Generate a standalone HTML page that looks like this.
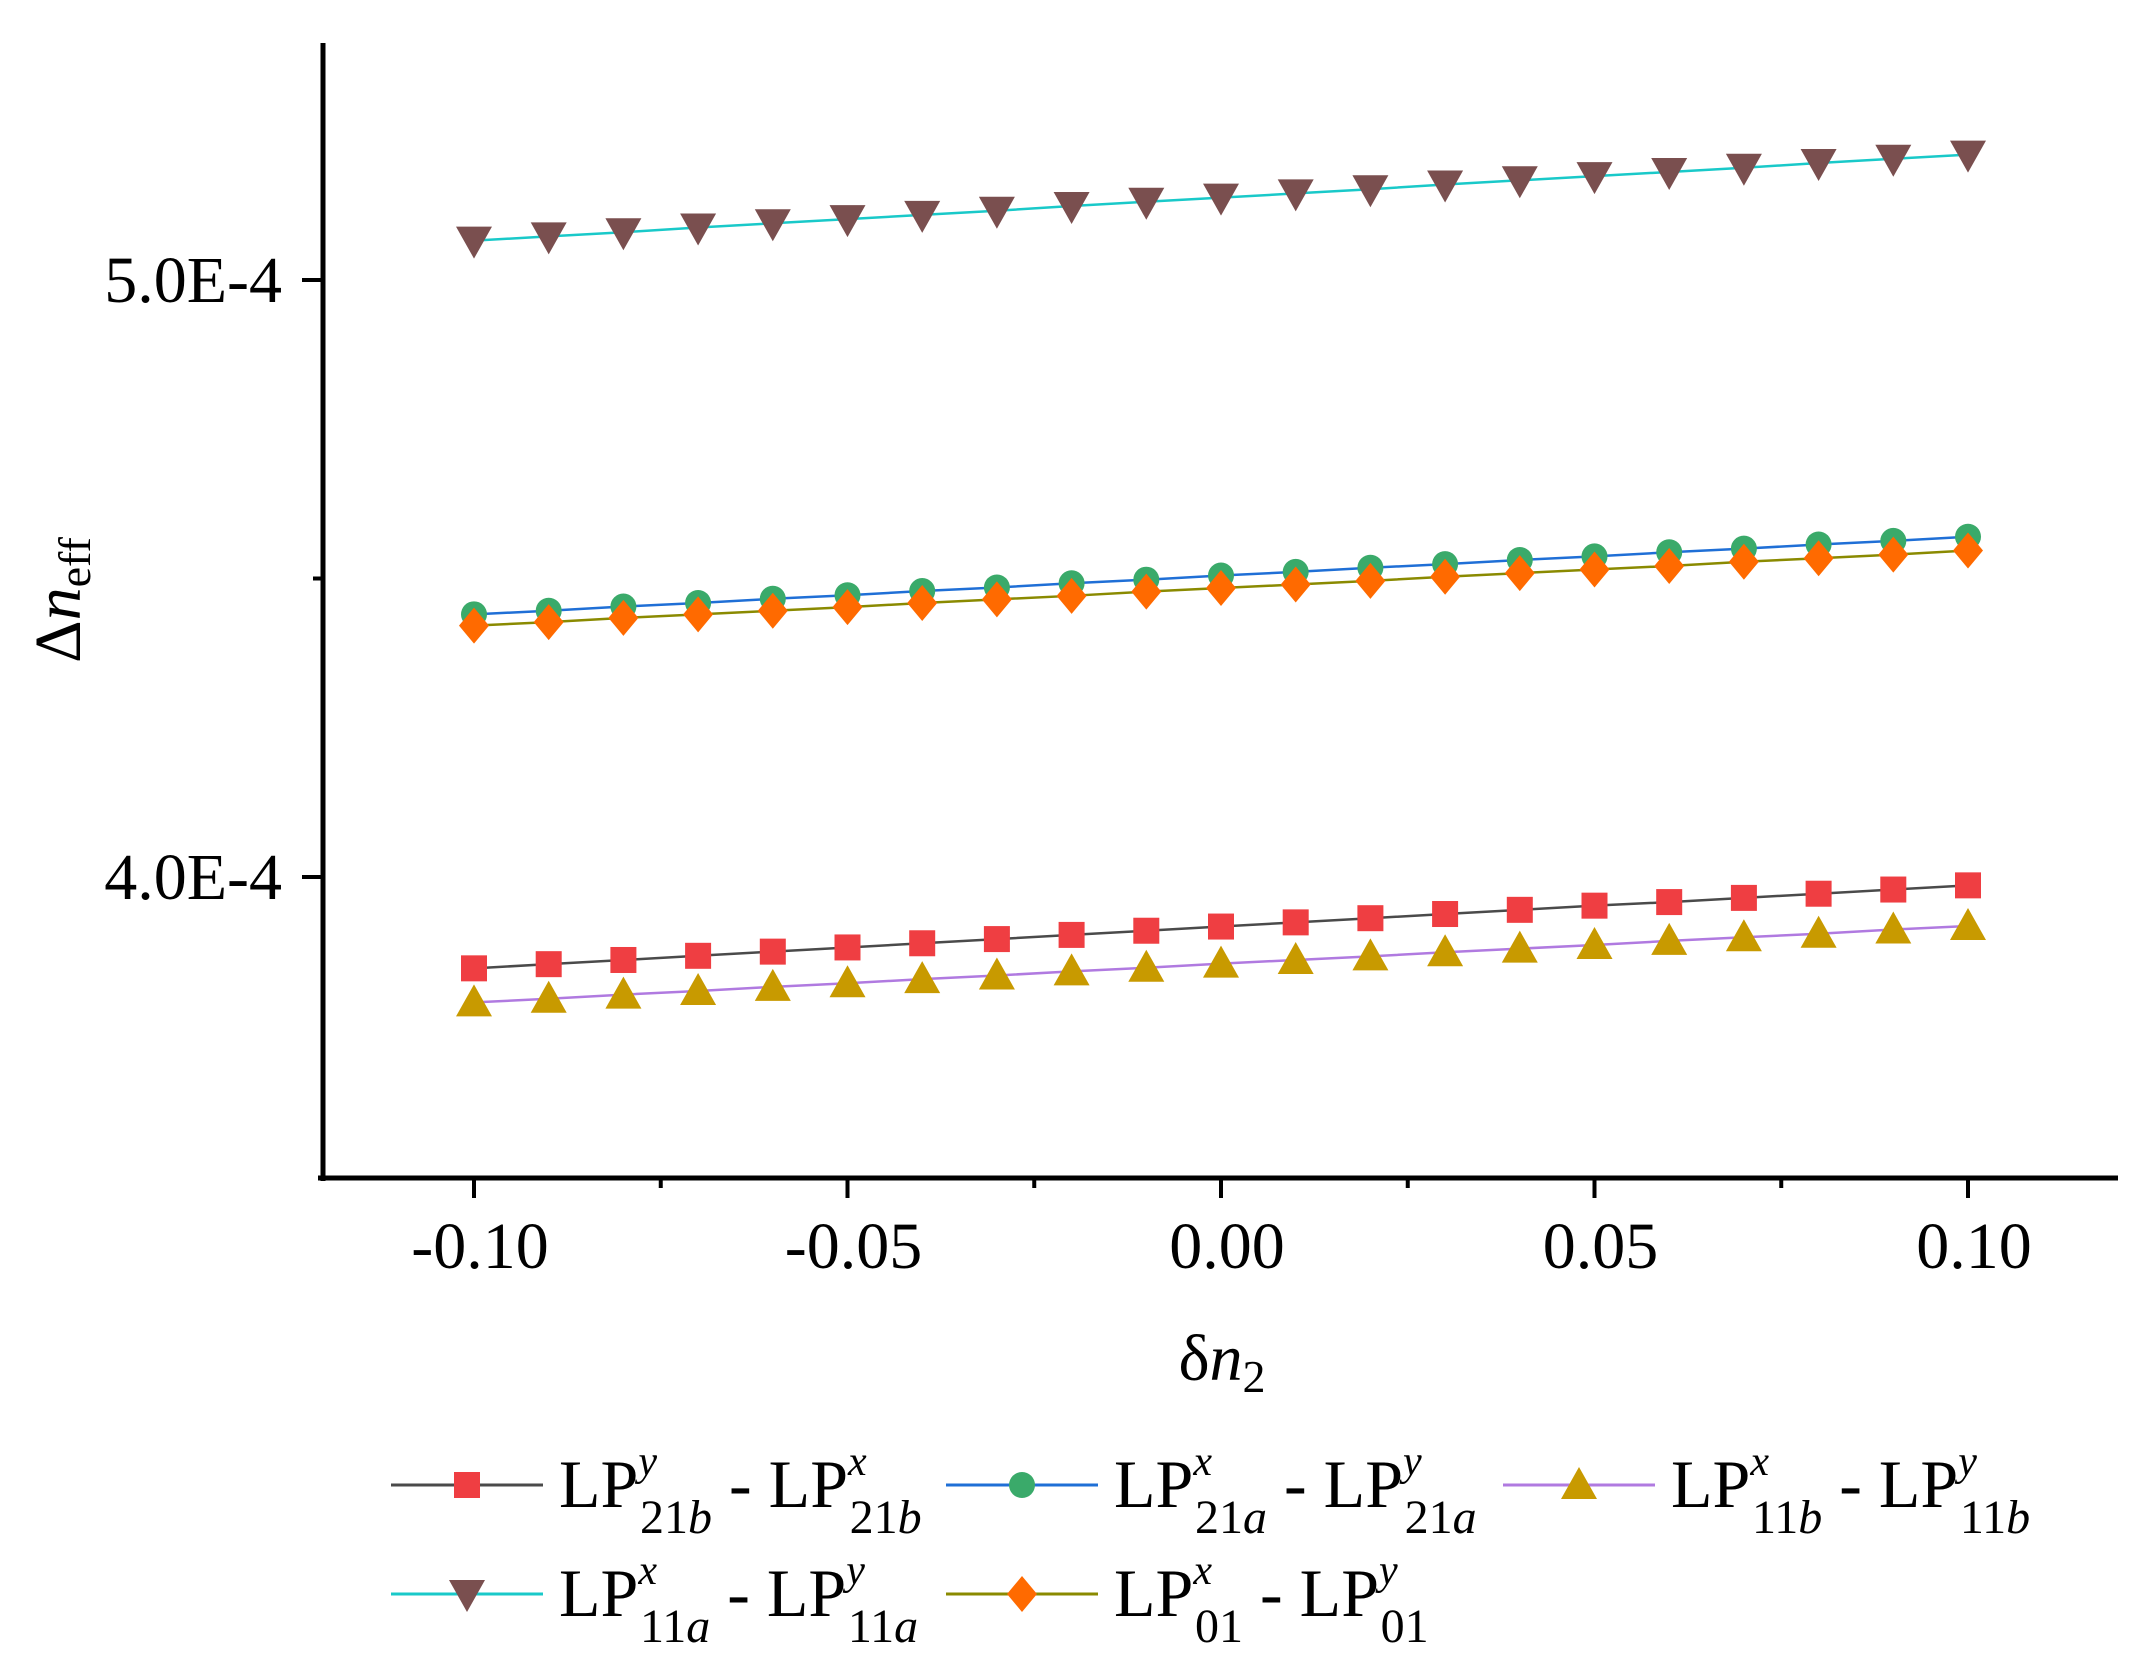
<!DOCTYPE html>
<html><head><meta charset="utf-8"><style>
html,body{margin:0;padding:0;background:#fff;}
svg{display:block;font-family:"Liberation Serif",serif;}
</style></head><body>
<svg id="chart" width="2133" height="1662" viewBox="0 0 2133 1662" xmlns="http://www.w3.org/2000/svg">
<g id="plot"></g>
<g id="axes"></g>
<g id="legend"></g>
</svg>
<script>
const xValues = [-0.10,-0.09,-0.08,-0.07,-0.06,-0.05,-0.04,-0.03,-0.02,-0.01,0.00,0.01,0.02,0.03,0.04,0.05,0.06,0.07,0.08,0.09,0.10];
const s21b = [3.847,3.854,3.861,3.868,3.875,3.882,3.889,3.896,3.903,3.910,3.917,3.924,3.931,3.938,3.945,3.952,3.958,3.965,3.972,3.979,3.986];
const s21a = [4.440,4.446,4.453,4.459,4.466,4.472,4.479,4.485,4.492,4.498,4.505,4.511,4.518,4.524,4.531,4.537,4.544,4.550,4.557,4.563,4.570];
const s11b = [3.790,3.796,3.803,3.809,3.816,3.822,3.829,3.835,3.842,3.848,3.855,3.861,3.867,3.874,3.880,3.886,3.893,3.899,3.905,3.912,3.918];
const s11a = [5.066,5.073,5.080,5.088,5.095,5.102,5.109,5.116,5.124,5.131,5.138,5.145,5.152,5.160,5.167,5.174,5.181,5.188,5.196,5.203,5.210];
const s01  = [4.421,4.427,4.434,4.440,4.446,4.452,4.459,4.465,4.471,4.478,4.484,4.490,4.496,4.503,4.509,4.515,4.521,4.528,4.534,4.540,4.547];
const xTicks = [-0.10,-0.05,0.00,0.05,0.10];
const xTickLabels = ["-0.10","-0.05","0.00","0.05","0.10"];
const yTicks = [4.0,5.0];
const yTickLabels = ["4.0E-4","5.0E-4"];

const NS="http://www.w3.org/2000/svg";
function xs(v){return 474+(v+0.10)*7470;}
function ys(v){return 877-(v-4.0)*597;}
function mk(tag,attrs,parent){const e=document.createElementNS(NS,tag);for(const k in attrs)e.setAttribute(k,attrs[k]);parent.appendChild(e);return e;}
const plot=document.getElementById('plot'),axes=document.getElementById('axes'),legend=document.getElementById('legend');

function marker(type,cx,cy,color,parent,name){
  let e;
  if(type==='square'){e=mk('rect',{x:cx-13,y:cy-13,width:26,height:26,fill:color},parent);}
  else if(type==='circle'){e=mk('circle',{cx:cx,cy:cy,r:13,fill:color},parent);}
  else if(type==='tridown'){e=mk('polygon',{points:`${cx-18},${cy-14} ${cx+18},${cy-14} ${cx},${cy+18}`,fill:color},parent);}
  else if(type==='triup'){e=mk('polygon',{points:`${cx-18},${cy+14} ${cx+18},${cy+14} ${cx},${cy-18}`,fill:color},parent);}
  else {e=mk('polygon',{points:`${cx},${cy-18} ${cx+15},${cy} ${cx},${cy+18} ${cx-15},${cy}`,fill:color},parent);}
  
  
  return e;
}
const series=[
 {d:s21b,line:'#4a4a4a',mc:'#ef3e42',m:'square',name:'lp21b'},
 {d:s21a,line:'#1f6fd6',mc:'#3aaa6a',m:'circle',name:'lp21a'},
 {d:s11b,line:'#b07ae0',mc:'#c89a00',m:'triup',name:'lp11b'},
 {d:s11a,line:'#19c9c9',mc:'#7a4f4f',m:'tridown',name:'lp11a'},
 {d:s01,line:'#8a8a00',mc:'#ff6a00',m:'diamond',name:'lp01'}
];
series.forEach(s=>{
  const g=mk('g',{},plot);
  
  
  const pts=xValues.map((x,i)=>xs(x)+','+ys(s.d[i])).join(' ');
  const pl=mk('polyline',{points:pts,fill:'none',stroke:s.line,'stroke-width':2.5},g);
  
  
  xValues.forEach((x,i)=>marker(s.m,xs(x),ys(s.d[i]),s.mc,g,s.name+'-point'));
});

let a=mk('line',{x1:323,y1:43,x2:323,y2:1181,stroke:'#000','stroke-width':5},axes);

a=mk('line',{x1:318,y1:1178,x2:2118,y2:1178,stroke:'#000','stroke-width':5},axes);

xTicks.forEach((v,i)=>{
  let t=mk('line',{x1:xs(v),y1:1178,x2:xs(v),y2:1198,stroke:'#000','stroke-width':4},axes);
  
  let m=mk('line',{x1:xs(v+0.025),y1:1178,x2:xs(v+0.025),y2:1188,stroke:'#000','stroke-width':4},axes);
  
  let l=mk('text',{x:xs(v)+6,y:1268,'text-anchor':'middle','font-size':66,fill:'#000'},axes);
  l.textContent=xTickLabels[i];
  
});
yTicks.forEach((v,i)=>{
  let t=mk('line',{x1:302,y1:ys(v),x2:323,y2:ys(v),stroke:'#000','stroke-width':4},axes);
  
  let l=mk('text',{x:282,y:ys(v)+22,'text-anchor':'end','font-size':66,fill:'#000'},axes);
  l.textContent=yTickLabels[i];
  
});
let mt=mk('line',{x1:313,y1:ys(4.5),x2:323,y2:ys(4.5),stroke:'#000','stroke-width':4},axes);


let yt=mk('text',{x:0,y:0,transform:'translate(80,600) rotate(-90)','text-anchor':'middle','font-size':66,fill:'#000'},axes);
yt.innerHTML='Δ<tspan font-style="italic">n</tspan><tspan font-size="46" dy="10">eff</tspan>';

let xt=mk('text',{x:1222,y:1380,'text-anchor':'middle','font-size':66,fill:'#000'},axes);
xt.innerHTML='δ<tspan font-style="italic">n</tspan><tspan font-size="46" dy="12">2</tspan>';


const legItems=[
 {s:0,x:391,y:1485,sup1:'y',sub1:'21<tspan font-style="italic">b</tspan>',sup2:'x',sub2:'21<tspan font-style="italic">b</tspan>'},
 {s:1,x:946,y:1485,sup1:'x',sub1:'21<tspan font-style="italic">a</tspan>',sup2:'y',sub2:'21<tspan font-style="italic">a</tspan>'},
 {s:2,x:1503,y:1485,sup1:'x',sub1:'11<tspan font-style="italic">b</tspan>',sup2:'y',sub2:'11<tspan font-style="italic">b</tspan>'},
 {s:3,x:391,y:1594,sup1:'x',sub1:'11<tspan font-style="italic">a</tspan>',sup2:'y',sub2:'11<tspan font-style="italic">a</tspan>'},
 {s:4,x:946,y:1594,sup1:'x',sub1:'01',sup2:'y',sub2:'01'}
];
legItems.forEach(it=>{
  const s=series[it.s];
  const g=mk('g',{},legend);
  
  
  mk('line',{x1:it.x,y1:it.y,x2:it.x+152,y2:it.y,stroke:s.line,'stroke-width':3},g);
  marker(s.m,it.x+76,it.y,s.mc,g,'legend-marker');
  const t=mk('text',{x:it.x+168,y:it.y+22,'font-size':68,fill:'#000'},g);
  t.innerHTML=`LP<tspan font-size="42" font-style="italic" dy="-32">${it.sup1}</tspan><tspan font-size="48" dx="-17" dy="58">${it.sub1}</tspan><tspan dy="-26"> - LP</tspan><tspan font-size="42" font-style="italic" dy="-32">${it.sup2}</tspan><tspan font-size="48" dx="-17" dy="58">${it.sub2}</tspan>`;
  
  
});
</script>
</body></html>
